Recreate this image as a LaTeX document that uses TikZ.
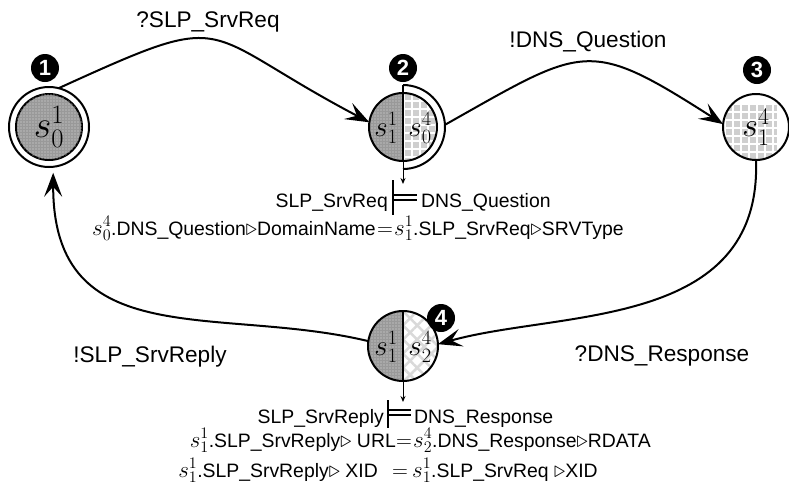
\RequirePackage{fix-cm}
\documentclass[tikz,border=0pt]{standalone}
\usepackage{fontspec}
\setmainfont{Liberation Sans}
\usetikzlibrary{arrows.meta,patterns.meta,calc}
\newcommand\sv[2]{{\fontsize{23}{23}\selectfont$s^{#1}_{#2}$}}
\newcommand\tri{{\fontsize{23}{23}\selectfont$\triangleright$}}
\newcommand\gridfill[4]{%
  \fill[black!19] (#1,#2) rectangle (#3,#4);
  \foreach \k in {0,...,9} {
    \draw[white,line width=2pt] ({#1+1+\k*8},#2) -- ({#1+1+\k*8},#4);
    \draw[white,line width=2pt] (#1,{#2+1+\k*8}) -- (#3,{#2+1+\k*8});
  }}
\begin{document}
\begin{tikzpicture}[x=1pt,y=-1pt,
  edge/.style={line width=2pt,-{Stealth[length=24pt,width=18pt,inset=10pt]}},
  st/.style={circle,draw,line width=2pt,inner sep=0pt,outer sep=0pt},
  darkpat/.style={fill=black!40,postaction={pattern={Dots[radius=0.55pt,distance=3pt]},pattern color=black!12}},
  hatchpat/.style={fill=white,postaction={pattern={Hatch[angle=45,distance=10pt,line width=2.5pt]},pattern color=black!15}},
  badge/.style={circle,fill=black,text=white,minimum size=28pt,inner sep=0pt,font=\fontsize{22}{22}\selectfont\bfseries},
  lbl/.style={font=\fontsize{22.6}{26}\selectfont,inner sep=0pt},
  txt/.style={font=\fontsize{19.4}{23}\selectfont,inner sep=0pt},
  eqs/.style={font=\fontsize{22}{23}\selectfont,inner sep=0pt},
  bigm/.style={inner sep=0pt,font=\fontsize{38}{38}\selectfont},
  midm/.style={inner sep=0pt,font=\fontsize{29}{29}\selectfont},
  small/.style={line width=1pt,-{Stealth[length=6pt,width=5pt]}},
  models/.style={line width=1.2pt},
]
\useasboundingbox (0,0) rectangle (789,488);

% node 1
\node[st,minimum size=80pt] (n1) at (49,127) {};
\node[st,minimum size=66pt,darkpat,bigm] (n1i) at (n1) {$s^1_0$};

% node 2
\node[st,minimum size=68pt,path picture={
  \path[darkpat] (path picture bounding box.north west) rectangle (path picture bounding box.south);
  \gridfill{0}{-35}{36}{35}
}] (n2) at (403,127) {};
\node[circle,minimum size=84pt,inner sep=0pt,outer sep=0pt] (n2r) at (n2) {};
\draw[line width=2pt] (n2r.north) arc[start angle=90,end angle=-90,radius=42pt];
\draw[line width=2pt] (n2r.north) -- (n2.south);
\coordinate (c2) at (403,184);
\draw[small] (n2.south) -- (c2);
\node[midm] (n2a) at (386,128) {$s^1_1$};
\node[midm] (n2b) at (420,128) {$s^4_0$};

% node 3
\node[st,minimum size=66pt,font=\fontsize{34}{34}\selectfont,path picture={
  \gridfill{-34}{-34}{35}{35}
}] (n3) at (756,127) {$s^4_1$};

% node 4
\node[st,minimum size=70pt,path picture={
  \path[darkpat] (path picture bounding box.north west) rectangle (path picture bounding box.south);
  \path[hatchpat] (path picture bounding box.north) rectangle (path picture bounding box.south east);
}] (n4) at (403,346) {};
\draw[line width=2pt] (n4.north) -- (n4.south);
\coordinate (c4) at (403,402);
\draw[small] (n4.south) -- (c4);
\node[midm] (n4a) at (386,347) {$s^1_1$};
\node[midm] (n4b) at (420,347) {$s^4_2$};

% badges
\node[badge] (b1) at (45,68) {1};
\node[badge] (b2) at (403,68) {2};
\node[badge] (b3) at (757,70) {3};
\node[badge] (b4) at (441,318) {4};

% edges
\draw[edge] (n1.76) .. controls (237,7) and (194,30) .. (n2.172);
\draw[edge] (n2r.3) .. controls (585,46) and (587,37) .. (n3.175);
\draw[edge] (n3.south) .. controls (762,330) and (560,310) .. (n4.3);
\draw[edge,shorten >=6pt] (n4.172) .. controls (218,305) and (53,355) .. (n1.-84);

% edge labels
\node[lbl] (l1) at (208,22) {?SLP\_SrvReq};
\node[lbl] (l2) at (588,42) {!DNS\_Question};
\node[lbl] (l3) at (662,356) {?DNS\_Response};
\node[lbl] (l4) at (150,357) {!SLP\_SrvReply};

% upper constraint
\node[txt,anchor=base east] (t1) at (388,207) {SLP\_SrvReq};
\draw[models] (393,180) -- (393,215);
\draw[models] (393,195) -- (417,195);
\draw[models] (393,200) -- (417,200);
\node[txt,anchor=base west] (t2) at (421,207) {DNS\_Question};
\node[txt,anchor=base east] (t3) at (376,235) {\sv40.DNS\_Question\tri DomainName};
\node[eqs,anchor=base] (t4) at (385,235) {$=$};
\node[txt,anchor=base west] (t5) at (394,235) {\sv11.SLP\_SrvReq\tri SRVType};

% lower constraint
\node[txt,anchor=base east] (u1) at (384,423) {SLP\_SrvReply};
\draw[models] (388,400) -- (388,428);
\draw[models] (388,410) -- (411,410);
\draw[models] (388,415) -- (411,415);
\node[txt,anchor=base west] (u2) at (414,423) {DNS\_Response};
\node[txt,anchor=base east] (u3) at (396,447) {\sv11.SLP\_SrvReply\tri{} URL};
\node[eqs,anchor=base] (u4) at (404,447) {$=$};
\node[txt,anchor=base west] (u5) at (413,447) {\sv42.DNS\_Response\tri RDATA};
\node[txt,anchor=base east] (u6) at (378,477) {\sv11.SLP\_SrvReply\tri{} XID};
\node[eqs,anchor=base] (u7) at (400,477) {$=$};
\node[txt,anchor=base west] (u8) at (412,477) {\sv11.SLP\_SrvReq \tri XID};
\end{tikzpicture}
\end{document}
